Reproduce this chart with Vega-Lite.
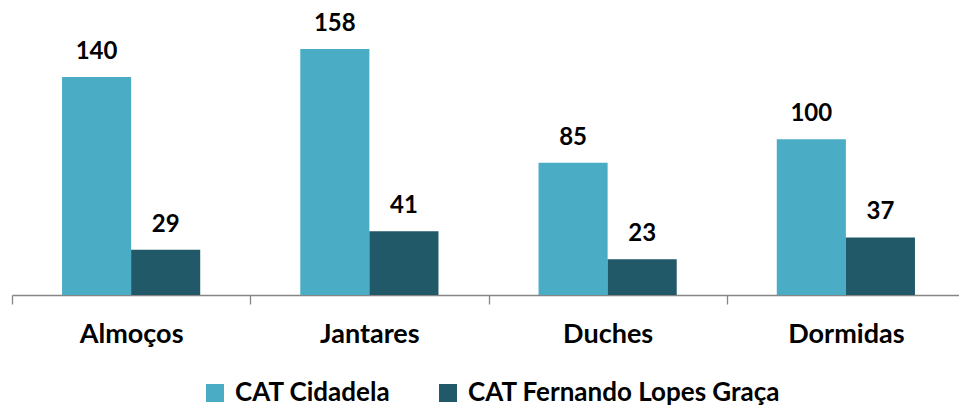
{
  "$schema": "https://vega.github.io/schema/vega-lite/v6.json",
  "width": 953,
  "height": 295,
  "autosize": {"type": "none"},
  "padding": {"left": 12, "top": 0, "right": 0, "bottom": 110},
  "background": "white",
  "config": {"view": {"stroke": null}, "font": "Lato"},
  "data": {
    "values": [
      {"category": "Almoços", "series": "CAT Cidadela", "value": 140},
      {"category": "Almoços", "series": "CAT Fernando Lopes Graça", "value": 29},
      {"category": "Jantares", "series": "CAT Cidadela", "value": 158},
      {"category": "Jantares", "series": "CAT Fernando Lopes Graça", "value": 41},
      {"category": "Duches", "series": "CAT Cidadela", "value": 85},
      {"category": "Duches", "series": "CAT Fernando Lopes Graça", "value": 23},
      {"category": "Dormidas", "series": "CAT Cidadela", "value": 100},
      {"category": "Dormidas", "series": "CAT Fernando Lopes Graça", "value": 37}
    ]
  },
  "encoding": {
    "x": {
      "field": "category",
      "type": "nominal",
      "sort": ["Almoços", "Jantares", "Duches", "Dormidas"],
      "scale": {"paddingInner": 0.42, "paddingOuter": 0.21},
      "axis": {
        "title": null,
        "labelAngle": 0,
        "labelFontSize": 27,
        "labelFontWeight": "bold",
        "labelColor": "#000000",
        "labelFont": "Lato",
        "labelPadding": 17,
        "domainColor": "#868686",
        "domainWidth": 1.3,
        "tickColor": "#868686",
        "tickWidth": 1.3,
        "tickSize": 9,
        "tickOffset": -119.125,
        "labelOffset": 119.125
      }
    },
    "xOffset": {"field": "series", "type": "nominal", "sort": ["CAT Cidadela", "CAT Fernando Lopes Graça"]},
    "y": {
      "field": "value",
      "type": "quantitative",
      "scale": {"domain": [0, 189.5], "nice": false, "zero": true},
      "axis": null
    }
  },
  "layer": [
    {
      "mark": {"type": "bar"},
      "encoding": {
        "color": {
          "field": "series",
          "type": "nominal",
          "sort": ["CAT Cidadela", "CAT Fernando Lopes Graça"],
          "scale": {"range": ["#4BACC6", "#215968"]},
          "legend": {
            "title": null,
            "orient": "none",
            "legendX": 190,
            "legendY": 380,
            "direction": "horizontal",
            "symbolType": "square",
            "symbolSize": 324,
            "symbolStrokeWidth": 0,
            "symbolOpacity": 1,
            "labelFontSize": 26,
            "labelFontWeight": "bold",
            "labelColor": "#000000",
            "labelFont": "Lato",
            "labelOffset": 7,
            "columnPadding": 44,
            "labelLimit": 500
          }
        }
      }
    },
    {
      "mark": {"type": "text", "baseline": "bottom", "dy": -13, "fontSize": 24, "fontWeight": "bold", "color": "#000000", "font": "Lato"},
      "encoding": {"text": {"field": "value", "type": "quantitative"}}
    }
  ]
}
